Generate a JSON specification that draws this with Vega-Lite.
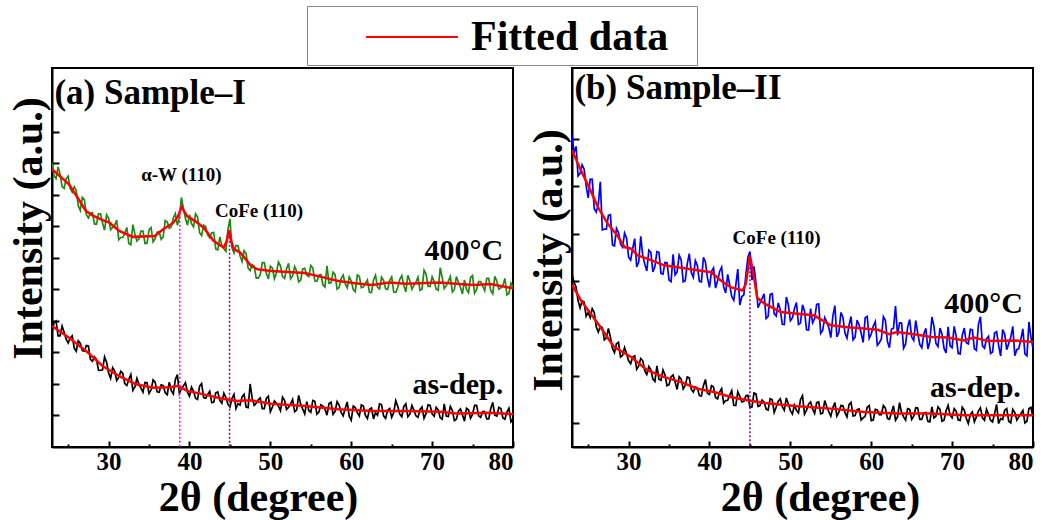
{
"$schema": "https://vega.github.io/schema/vega-lite/v6.json",
"background": "white",
"padding": {"left": 6, "top": 5, "right": 3, "bottom": 2},
"bounds": "flush",
"spacing": 59,
"config": {
 "view": {"stroke": "black", "strokeWidth": 2},
 "font": "Liberation Serif",
 "axis": {"domainColor": "black", "domainWidth": 2, "tickColor": "black", "tickWidth": 2, "grid": false,
  "labelFont": "Liberation Serif", "labelFontWeight": "bold", "labelFontSize": 25, "labelColor": "black",
  "titleFont": "Liberation Serif", "titleFontWeight": "bold", "titleFontSize": 42, "titleColor": "black"},
 "text": {"font": "Liberation Serif", "fontWeight": "bold", "color": "black"}
},
"datasets": {
 "rawA": [
{"x":23,"h":9.03,"d":3.64},{"x":23.5,"h":8.52,"d":4.00},{"x":24,"h":8.66,"d":3.53},{"x":24.5,"h":8.21,"d":3.64},{"x":25,"h":8.60,"d":3.30},{"x":25.5,"h":8.09,"d":3.53},{"x":26,"h":8.13,"d":3.04},{"x":26.5,"h":7.51,"d":3.29},{"x":27,"h":7.85,"d":3.04},{"x":27.5,"h":7.27,"d":3.21},
{"x":28,"h":7.44,"d":2.72},{"x":28.5,"h":7.07,"d":2.78},{"x":29,"h":7.40,"d":2.43},{"x":29.5,"h":6.88,"d":2.86},{"x":30,"h":7.25,"d":2.35},{"x":30.5,"h":6.97,"d":2.52},{"x":31,"h":7.20,"d":2.11},{"x":31.5,"h":6.65,"d":2.40},{"x":32,"h":6.79,"d":2.01},{"x":32.5,"h":6.46,"d":2.15},
{"x":33,"h":7.06,"d":1.80},{"x":33.5,"h":6.54,"d":2.18},{"x":34,"h":6.85,"d":1.87},{"x":34.5,"h":6.46,"d":2.05},{"x":35,"h":6.89,"d":1.70},{"x":35.5,"h":6.51,"d":2.13},{"x":36,"h":6.82,"d":1.75},{"x":36.5,"h":6.59,"d":1.97},{"x":37,"h":7.19,"d":1.72},{"x":37.5,"h":6.94,"d":2.06},
{"x":38,"h":7.27,"d":1.68},{"x":38.5,"h":7.04,"d":2.30},{"x":39,"h":7.92,"d":1.85},{"x":39.5,"h":7.25,"d":2.04},{"x":40,"h":7.37,"d":1.61},{"x":40.5,"h":6.99,"d":1.77},{"x":41,"h":7.30,"d":1.51},{"x":41.5,"h":6.71,"d":2.01},{"x":42,"h":7.00,"d":1.55},{"x":42.5,"h":6.64,"d":1.77},
{"x":43,"h":6.81,"d":1.42},{"x":43.5,"h":6.26,"d":1.75},{"x":44,"h":6.39,"d":1.39},{"x":44.5,"h":6.21,"d":1.57},{"x":45,"h":7.24,"d":1.27},{"x":45.5,"h":6.16,"d":1.67},{"x":46,"h":6.39,"d":1.38},{"x":46.5,"h":5.89,"d":1.59},{"x":47,"h":6.14,"d":1.27},{"x":47.5,"h":5.60,"d":2.00},
{"x":48,"h":5.74,"d":1.32},{"x":48.5,"h":5.36,"d":1.50},{"x":49,"h":5.85,"d":1.22},{"x":49.5,"h":5.51,"d":1.54},{"x":50,"h":5.74,"d":1.12},{"x":50.5,"h":5.34,"d":1.46},{"x":51,"h":5.87,"d":1.30},{"x":51.5,"h":5.41,"d":1.58},{"x":52,"h":5.65,"d":1.19},{"x":52.5,"h":5.34,"d":1.36},
{"x":53,"h":5.73,"d":1.12},{"x":53.5,"h":5.24,"d":1.64},{"x":54,"h":5.65,"d":1.20},{"x":54.5,"h":5.45,"d":1.44},{"x":55,"h":5.76,"d":1.10},{"x":55.5,"h":5.27,"d":1.45},{"x":56,"h":5.45,"d":1.11},{"x":56.5,"h":5.15,"d":1.30},{"x":57,"h":5.75,"d":1.01},{"x":57.5,"h":5.21,"d":1.42},
{"x":58,"h":5.47,"d":1.13},{"x":58.5,"h":5.06,"d":1.33},{"x":59,"h":5.46,"d":0.99},{"x":59.5,"h":5.05,"d":1.43},{"x":60,"h":5.27,"d":0.85},{"x":60.5,"h":4.93,"d":1.25},{"x":61,"h":5.42,"d":0.98},{"x":61.5,"h":5.08,"d":1.30},{"x":62,"h":5.30,"d":0.90},{"x":62.5,"h":4.90,"d":1.24},
{"x":63,"h":5.45,"d":1.09},{"x":63.5,"h":5.02,"d":1.37},{"x":64,"h":5.28,"d":0.99},{"x":64.5,"h":5.00,"d":1.17},{"x":65,"h":5.40,"d":0.94},{"x":65.5,"h":4.91,"d":1.47},{"x":66,"h":5.32,"d":1.04},{"x":66.5,"h":5.13,"d":1.29},{"x":67,"h":5.45,"d":0.96},{"x":67.5,"h":5.01,"d":1.32},
{"x":68,"h":5.23,"d":0.99},{"x":68.5,"h":4.97,"d":1.19},{"x":69,"h":5.61,"d":0.91},{"x":69.5,"h":5.10,"d":1.34},{"x":70,"h":5.40,"d":1.05},{"x":70.5,"h":5.01,"d":1.26},{"x":71,"h":5.69,"d":0.93},{"x":71.5,"h":5.03,"d":1.37},{"x":72,"h":5.26,"d":0.97},{"x":72.5,"h":4.92,"d":1.16},
{"x":73,"h":5.41,"d":0.88},{"x":73.5,"h":5.07,"d":1.21},{"x":74,"h":5.30,"d":0.82},{"x":74.5,"h":4.90,"d":1.18},{"x":75,"h":5.44,"d":1.04},{"x":75.5,"h":5.00,"d":1.32},{"x":76,"h":5.25,"d":0.94},{"x":76.5,"h":4.96,"d":1.12},{"x":77,"h":5.35,"d":0.89},{"x":77.5,"h":4.86,"d":1.42},
{"x":78,"h":5.26,"d":0.98},{"x":78.5,"h":5.05,"d":1.22},{"x":79,"h":5.35,"d":0.88},{"x":79.5,"h":4.88,"d":1.23},{"x":80,"h":5.07,"d":0.89},
{"x":23.25,"h":8.61,"d":3.95},{"x":23.75,"h":8.89,"d":3.53},{"x":24.25,"h":8.27,"d":3.84},{"x":24.75,"h":8.51,"d":3.42},{"x":25.25,"h":8.21,"d":3.46},{"x":25.75,"h":8.26,"d":3.14},{"x":26.25,"h":7.66,"d":3.37},{"x":26.75,"h":7.92,"d":3.06},{"x":27.25,"h":7.37,"d":3.22},{"x":27.75,"h":7.42,"d":2.78},
{"x":28.25,"h":7.08,"d":2.86},{"x":28.75,"h":7.40,"d":2.44},{"x":29.25,"h":7.11,"d":2.45},{"x":29.75,"h":7.37,"d":2.69},{"x":30.25,"h":6.90,"d":2.18},{"x":30.75,"h":7.04,"d":2.41},{"x":31.25,"h":6.58,"d":2.21},{"x":31.75,"h":6.65,"d":2.34},{"x":32.25,"h":6.97,"d":1.95},{"x":32.75,"h":6.42,"d":2.30},
{"x":33.25,"h":6.76,"d":1.91},{"x":33.75,"h":6.61,"d":1.99},{"x":34.25,"h":6.85,"d":1.74},{"x":34.75,"h":6.47,"d":2.04},{"x":35.25,"h":6.96,"d":1.81},{"x":35.75,"h":6.61,"d":2.06},{"x":36.25,"h":6.84,"d":1.74},{"x":36.75,"h":6.67,"d":1.95},{"x":37.25,"h":7.14,"d":1.66},{"x":37.75,"h":6.99,"d":1.79},
{"x":38.25,"h":7.41,"d":2.14},{"x":38.75,"h":7.27,"d":1.70},{"x":39.25,"h":7.57,"d":1.94},{"x":39.75,"h":7.04,"d":1.74},{"x":40.25,"h":7.09,"d":1.90},{"x":40.75,"h":7.40,"d":1.55},{"x":41.25,"h":6.80,"d":1.93},{"x":41.75,"h":7.04,"d":1.57},{"x":42.25,"h":6.73,"d":1.67},{"x":42.75,"h":6.80,"d":1.41},
{"x":43.25,"h":6.28,"d":1.72},{"x":43.75,"h":6.67,"d":1.48},{"x":44.25,"h":6.29,"d":1.71},{"x":44.75,"h":6.90,"d":1.36},{"x":45.25,"h":6.33,"d":1.54},{"x":45.75,"h":6.40,"d":1.22},{"x":46.25,"h":6.07,"d":1.33},{"x":46.75,"h":6.23,"d":1.67},{"x":47.25,"h":5.68,"d":1.25},{"x":47.75,"h":5.79,"d":1.55},
{"x":48.25,"h":5.36,"d":1.39},{"x":48.75,"h":5.47,"d":1.56},{"x":49.25,"h":5.85,"d":1.22},{"x":49.75,"h":5.33,"d":1.61},{"x":50.25,"h":5.68,"d":1.27},{"x":50.75,"h":5.52,"d":1.39},{"x":51.25,"h":5.75,"d":1.15},{"x":51.75,"h":5.35,"d":1.48},{"x":52.25,"h":5.83,"d":1.26},{"x":52.75,"h":5.43,"d":1.51},
{"x":53.25,"h":5.58,"d":1.17},{"x":53.75,"h":5.30,"d":1.36},{"x":54.25,"h":5.67,"d":1.05},{"x":54.75,"h":5.41,"d":1.16},{"x":55.25,"h":5.68,"d":1.48},{"x":55.75,"h":5.26,"d":1.04},{"x":56.25,"h":5.47,"d":1.34},{"x":56.75,"h":5.08,"d":1.20},{"x":57.25,"h":5.20,"d":1.38},{"x":57.75,"h":5.55,"d":1.04},
{"x":58.25,"h":5.01,"d":1.44},{"x":58.75,"h":5.35,"d":1.10},{"x":59.25,"h":5.18,"d":1.22},{"x":59.75,"h":5.40,"d":0.98},{"x":60.25,"h":5.00,"d":1.30},{"x":60.75,"h":5.46,"d":1.09},{"x":61.25,"h":5.06,"d":1.34},{"x":61.75,"h":5.19,"d":1.00},{"x":62.25,"h":4.91,"d":1.20},{"x":62.75,"h":5.30,"d":0.89},
{"x":63.25,"h":5.07,"d":1.01},{"x":63.75,"h":5.39,"d":1.34},{"x":64.25,"h":5.02,"d":0.91},{"x":64.75,"h":5.28,"d":1.22},{"x":65.25,"h":4.92,"d":1.09},{"x":65.75,"h":5.06,"d":1.29},{"x":66.25,"h":5.44,"d":0.96},{"x":66.75,"h":4.92,"d":1.37},{"x":67.25,"h":5.28,"d":1.04},{"x":67.75,"h":5.14,"d":1.17},
{"x":68.25,"h":5.39,"d":0.94},{"x":68.75,"h":5.01,"d":1.27},{"x":69.25,"h":5.49,"d":1.06},{"x":69.75,"h":5.10,"d":1.32},{"x":70.25,"h":5.25,"d":0.98},{"x":70.75,"h":4.98,"d":1.18},{"x":71.25,"h":5.37,"d":0.88},{"x":71.75,"h":5.12,"d":0.98},{"x":72.25,"h":5.41,"d":1.29},{"x":72.75,"h":5.00,"d":0.84},
{"x":73.25,"h":5.23,"d":1.14},{"x":73.75,"h":4.86,"d":1.02},{"x":74.25,"h":5.00,"d":1.23},{"x":74.75,"h":5.38,"d":0.91},{"x":75.25,"h":4.88,"d":1.32},{"x":75.75,"h":5.25,"d":0.99},{"x":76.25,"h":5.11,"d":1.12},{"x":76.75,"h":5.35,"d":0.89},{"x":77.25,"h":4.96,"d":1.22},{"x":77.75,"h":5.42,"d":1.01},
{"x":78.25,"h":5.01,"d":1.26},{"x":78.75,"h":5.13,"d":0.92},{"x":79.25,"h":4.83,"d":1.11},{"x":79.75,"h":5.20,"d":0.80}
 ],
 "rawB": [
{"x":23,"h":13.2,"d":7.30},{"x":23.5,"h":12.69,"d":6.76},{"x":24,"h":11.55,"d":5.87},{"x":24.5,"h":11.73,"d":6.12},{"x":25,"h":10.52,"d":5.68},{"x":25.5,"h":11.30,"d":5.84},{"x":26,"h":9.92,"d":5.07},{"x":26.5,"h":11.2,"d":5.09},{"x":27,"h":9.20,"d":4.52},{"x":27.5,"h":9.78,"d":5.01},
{"x":28,"h":8.53,"d":4.16},{"x":28.5,"h":9.23,"d":4.36},{"x":29,"h":8.57,"d":3.80},{"x":29.5,"h":9.03,"d":4.20},{"x":30,"h":8.01,"d":3.64},{"x":30.5,"h":8.37,"d":3.80},{"x":31,"h":7.60,"d":3.28},{"x":31.5,"h":8.89,"d":3.74},{"x":32,"h":7.72,"d":3.21},{"x":32.5,"h":8.31,"d":3.40},
{"x":33,"h":7.39,"d":2.87},{"x":33.5,"h":8.25,"d":3.43},{"x":34,"h":7.33,"d":2.82},{"x":34.5,"h":7.79,"d":3.04},{"x":35,"h":7.05,"d":2.63},{"x":35.5,"h":8.13,"d":3.04},{"x":36,"h":7.39,"d":2.43},{"x":36.5,"h":7.90,"d":2.87},{"x":37,"h":7.02,"d":2.60},{"x":37.5,"h":8.16,"d":2.92},
{"x":38,"h":7.16,"d":2.32},{"x":38.5,"h":7.66,"d":2.50},{"x":39,"h":6.97,"d":2.15},{"x":39.5,"h":7.80,"d":2.85},{"x":40,"h":6.74,"d":2.22},{"x":40.5,"h":7.56,"d":2.53},{"x":41,"h":7.02,"d":2.03},{"x":41.5,"h":7.59,"d":2.47},{"x":42,"h":6.50,"d":1.96},{"x":42.5,"h":6.84,"d":2.19},
{"x":43,"h":6.19,"d":1.76},{"x":43.5,"h":7.51,"d":2.33},{"x":44,"h":6.35,"d":1.90},{"x":44.5,"h":7.28,"d":2.16},{"x":45,"h":8.25,"d":1.67},{"x":45.5,"h":7.63,"d":2.28},{"x":46,"h":5.88,"d":1.72},{"x":46.5,"h":6.27,"d":1.98},{"x":47,"h":5.42,"d":1.60},{"x":47.5,"h":6.44,"d":2.04},
{"x":48,"h":5.63,"d":1.46},{"x":48.5,"h":6.08,"d":1.93},{"x":49,"h":5.18,"d":1.70},{"x":49.5,"h":6.33,"d":2.07},{"x":50,"h":5.33,"d":1.53},{"x":50.5,"h":5.84,"d":1.77},{"x":51,"h":5.17,"d":1.44},{"x":51.5,"h":6.00,"d":2.17},{"x":52,"h":4.95,"d":1.56},{"x":52.5,"h":5.84,"d":1.90},
{"x":53,"h":5.42,"d":1.42},{"x":53.5,"h":6.04,"d":1.90},{"x":54,"h":4.93,"d":1.43},{"x":54.5,"h":5.27,"d":1.70},{"x":55,"h":4.62,"d":1.30},{"x":55.5,"h":5.97,"d":1.88},{"x":56,"h":4.84,"d":1.47},{"x":56.5,"h":5.47,"d":1.74},{"x":57,"h":4.60,"d":1.27},{"x":57.5,"h":5.51,"d":1.88},
{"x":58,"h":4.64,"d":1.33},{"x":58.5,"h":5.15,"d":1.61},{"x":59,"h":4.41,"d":1.23},{"x":59.5,"h":5.51,"d":1.68},{"x":60,"h":4.77,"d":1.11},{"x":60.5,"h":5.29,"d":1.59},{"x":61,"h":4.40,"d":1.37},{"x":61.5,"h":5.50,"d":1.75},{"x":62,"h":4.45,"d":1.21},{"x":62.5,"h":4.98,"d":1.46},
{"x":63,"h":5.95,"d":1.13},{"x":63.5,"h":5.24,"d":1.87},{"x":64,"h":4.17,"d":1.27},{"x":64.5,"h":5.06,"d":1.62},{"x":65,"h":4.64,"d":1.16},{"x":65.5,"h":5.34,"d":1.66},{"x":66,"h":4.33,"d":1.17},{"x":66.5,"h":4.76,"d":1.44},{"x":67,"h":4.14,"d":1.08},{"x":67.5,"h":5.49,"d":1.69},
{"x":68,"h":4.37,"d":1.30},{"x":68.5,"h":5.02,"d":1.59},{"x":69,"h":4.16,"d":1.13},{"x":69.5,"h":5.07,"d":1.76},{"x":70,"h":4.19,"d":1.23},{"x":70.5,"h":4.68,"d":1.51},{"x":71,"h":3.93,"d":1.12},{"x":71.5,"h":5.02,"d":1.56},{"x":72,"h":4.35,"d":0.99},{"x":72.5,"h":4.94,"d":1.48},
{"x":73,"h":4.08,"d":1.27},{"x":73.5,"h":5.5,"d":1.66},{"x":74,"h":4.17,"d":1.13},{"x":74.5,"h":4.67,"d":1.38},{"x":75,"h":4.01,"d":1.06},{"x":75.5,"h":4.87,"d":1.80},{"x":76,"h":3.84,"d":1.20},{"x":76.5,"h":4.76,"d":1.55},{"x":77,"h":4.37,"d":1.09},{"x":77.5,"h":5.09,"d":1.59},
{"x":78,"h":4.11,"d":1.13},{"x":78.5,"h":4.55,"d":1.41},{"x":79,"h":3.93,"d":1.02},{"x":79.5,"h":5.28,"d":1.62},{"x":80,"h":4.17,"d":1.24},
{"x":23.25,"h":12.42,"d":6.95},{"x":23.75,"h":11.44,"d":6.18},{"x":24.25,"h":11.91,"d":6.17},{"x":24.75,"h":11.02,"d":5.52},{"x":25.25,"h":11.31,"d":5.46},{"x":25.75,"h":10.06,"d":5.68},{"x":26.25,"h":10.23,"d":4.85},{"x":26.75,"h":9.16,"d":5.04},{"x":27.25,"h":9.20,"d":4.61},{"x":27.75,"h":9.81,"d":4.64},
{"x":28.25,"h":8.49,"d":3.98},{"x":28.75,"h":9.04,"d":4.42},{"x":29.25,"h":8.44,"d":3.86},{"x":29.75,"h":8.81,"d":3.94},{"x":30.25,"h":7.89,"d":3.51},{"x":30.75,"h":8.80,"d":3.85},{"x":31.25,"h":7.82,"d":3.42},{"x":31.75,"h":8.08,"d":3.64},{"x":32.25,"h":7.43,"d":3.06},{"x":32.75,"h":8.22,"d":3.26},
{"x":33.25,"h":7.62,"d":2.77},{"x":33.75,"h":8.22,"d":2.86},{"x":34.25,"h":7.30,"d":3.25},{"x":34.75,"h":7.78,"d":2.59},{"x":35.25,"h":6.98,"d":2.97},{"x":35.75,"h":7.27,"d":2.74},{"x":36.25,"h":8.10,"d":2.97},{"x":36.75,"h":6.97,"d":2.45},{"x":37.25,"h":7.73,"d":2.96},{"x":37.75,"h":7.37,"d":2.43},
{"x":38.25,"h":7.87,"d":2.54},{"x":38.75,"h":6.99,"d":2.17},{"x":39.25,"h":8.01,"d":2.59},{"x":39.75,"h":7.14,"d":2.27},{"x":40.25,"h":7.42,"d":2.59},{"x":40.75,"h":6.71,"d":2.09},{"x":41.25,"h":7.41,"d":2.32},{"x":41.75,"h":6.75,"d":1.85},{"x":42.25,"h":7.29,"d":1.97},{"x":42.75,"h":6.35,"d":2.38},
{"x":43.25,"h":6.82,"d":1.75},{"x":43.75,"h":5.99,"d":2.14},{"x":44.25,"h":6.42,"d":1.93},{"x":44.75,"h":8.01,"d":2.18},{"x":45.25,"h":7.04,"d":1.69},{"x":45.75,"h":6.92,"d":2.24},{"x":46.25,"h":6.08,"d":1.75},{"x":46.75,"h":6.47,"d":1.90},{"x":47.25,"h":5.51,"d":1.56},{"x":47.75,"h":6.47,"d":2.00},
{"x":48.25,"h":5.53,"d":1.69},{"x":48.75,"h":5.80,"d":2.03},{"x":49.25,"h":5.17,"d":1.55},{"x":49.75,"h":6.00,"d":1.82},{"x":50.25,"h":5.45,"d":1.39},{"x":50.75,"h":6.10,"d":1.55},{"x":51.25,"h":5.23,"d":2.00},{"x":51.75,"h":5.74,"d":1.39},{"x":52.25,"h":4.94,"d":1.81},{"x":52.75,"h":5.24,"d":1.61},
{"x":53.25,"h":6.02,"d":1.87},{"x":53.75,"h":4.80,"d":1.40},{"x":54.25,"h":5.46,"d":1.96},{"x":54.75,"h":5.04,"d":1.49},{"x":55.25,"h":5.52,"d":1.65},{"x":55.75,"h":4.65,"d":1.31},{"x":56.25,"h":5.68,"d":1.75},{"x":56.75,"h":4.81,"d":1.45},{"x":57.25,"h":5.13,"d":1.79},{"x":57.75,"h":4.52,"d":1.31},
{"x":58.25,"h":5.36,"d":1.58},{"x":58.75,"h":4.81,"d":1.14},{"x":59.25,"h":5.46,"d":1.30},{"x":59.75,"h":4.59,"d":1.75},{"x":60.25,"h":5.10,"d":1.14},{"x":60.75,"h":4.29,"d":1.56},{"x":61.25,"h":4.56,"d":1.37},{"x":61.75,"h":5.34,"d":1.64},{"x":62.25,"h":4.19,"d":1.17},{"x":62.75,"h":5.01,"d":1.74},
{"x":63.25,"h":4.71,"d":1.27},{"x":63.75,"h":5.23,"d":1.45},{"x":64.25,"h":4.35,"d":1.13},{"x":64.75,"h":5.38,"d":1.59},{"x":65.25,"h":4.50,"d":1.30},{"x":65.75,"h":4.81,"d":1.65},{"x":66.25,"h":4.19,"d":1.17},{"x":66.75,"h":5.01,"d":1.46},{"x":67.25,"h":4.45,"d":1.06},{"x":67.75,"h":5.10,"d":1.23},
{"x":68.25,"h":4.24,"d":1.69},{"x":68.75,"h":4.76,"d":1.09},{"x":69.25,"h":3.97,"d":1.52},{"x":69.75,"h":4.27,"d":1.34},{"x":70.25,"h":5.09,"d":1.62},{"x":70.75,"h":3.95,"d":1.14},{"x":71.25,"h":4.71,"d":1.68},{"x":71.75,"h":4.40,"d":1.21},{"x":72.25,"h":4.97,"d":1.38},{"x":72.75,"h":4.15,"d":1.06},
{"x":73.25,"h":5.17,"d":1.52},{"x":73.75,"h":4.27,"d":1.23},{"x":74.25,"h":4.56,"d":1.59},{"x":74.75,"h":3.95,"d":1.13},{"x":75.25,"h":4.81,"d":1.41},{"x":75.75,"h":4.29,"d":0.99},{"x":76.25,"h":4.96,"d":1.16},{"x":76.75,"h":4.11,"d":1.62},{"x":77.25,"h":4.63,"d":1.02},{"x":77.75,"h":3.85,"d":1.45},
{"x":78.25,"h":4.16,"d":1.27},{"x":78.75,"h":4.99,"d":1.55},{"x":79.25,"h":3.85,"d":1.09},{"x":79.75,"h":4.63,"d":1.67}
 ],
 "fitA": [
{"s":"h","x":23,"y":8.82},{"s":"h","x":25.1,"y":8.34},{"s":"h","x":26,"y":7.98},{"s":"h","x":27.2,"y":7.49},{"s":"h","x":28,"y":7.35},{"s":"h","x":29.25,"y":7.20},{"s":"h","x":30.1,"y":7.12},{"s":"h","x":31.3,"y":6.86},{"s":"h","x":33,"y":6.67},{"s":"h","x":35.7,"y":6.70},{"s":"h","x":36.75,"y":6.91},{"s":"h","x":38,"y":7.12},{"s":"h","x":38.6,"y":7.33},{"s":"h","x":39,"y":7.62},{"s":"h","x":39.7,"y":7.33},{"s":"h","x":40.7,"y":7.17},{"s":"h","x":41.75,"y":6.96},{"s":"h","x":43,"y":6.54},{"s":"h","x":44.25,"y":6.33},{"s":"h","x":44.6,"y":6.54},{"s":"h","x":44.9,"y":6.88},{"s":"h","x":45.2,"y":6.49},{"s":"h","x":45.5,"y":6.28},{"s":"h","x":46.3,"y":6.17},{"s":"h","x":47.6,"y":5.75},{"s":"h","x":48.4,"y":5.64},{"s":"h","x":50.1,"y":5.59},{"s":"h","x":54.25,"y":5.52},{"s":"h","x":56.3,"y":5.40},{"s":"h","x":58.4,"y":5.27},{"s":"h","x":60.5,"y":5.20},{"s":"h","x":62.6,"y":5.14},{"s":"h","x":64.7,"y":5.22},{"s":"h","x":66.75,"y":5.18},{"s":"h","x":70.9,"y":5.22},{"s":"h","x":75.1,"y":5.14},{"s":"h","x":77.2,"y":5.17},{"s":"h","x":80,"y":5.04},
{"s":"d","x":23,"y":3.84},{"s":"d","x":25.1,"y":3.47},{"s":"d","x":27.2,"y":3.05},{"s":"d","x":29.25,"y":2.57},{"s":"d","x":31.3,"y":2.25},{"s":"d","x":33.4,"y":1.99},{"s":"d","x":35.5,"y":1.88},{"s":"d","x":37.6,"y":1.90},{"s":"d","x":38.6,"y":1.94},{"s":"d","x":39.7,"y":1.78},{"s":"d","x":41.75,"y":1.67},{"s":"d","x":43.8,"y":1.55},{"s":"d","x":45.9,"y":1.46},{"s":"d","x":47.6,"y":1.48},{"s":"d","x":50.1,"y":1.37},{"s":"d","x":54.25,"y":1.30},{"s":"d","x":58.4,"y":1.20},{"s":"d","x":62.6,"y":1.14},{"s":"d","x":66.75,"y":1.14},{"s":"d","x":70.9,"y":1.12},{"s":"d","x":73,"y":1.06},{"s":"d","x":77.2,"y":1.09},{"s":"d","x":80,"y":1.04}
 ],
 "fitB": [
{"s":"h","x":23,"y":12.53},{"s":"h","x":24.1,"y":11.68},{"s":"h","x":25.1,"y":10.97},{"s":"h","x":26.2,"y":10.13},{"s":"h","x":27.4,"y":9.43},{"s":"h","x":28.6,"y":8.93},{"s":"h","x":29.5,"y":8.44},{"s":"h","x":30.3,"y":8.37},{"s":"h","x":31.1,"y":8.09},{"s":"h","x":32.3,"y":7.95},{"s":"h","x":34.4,"y":7.67},{"s":"h","x":36.5,"y":7.57},{"s":"h","x":38.5,"y":7.46},{"s":"h","x":40.2,"y":7.38},{"s":"h","x":41.4,"y":7.03},{"s":"h","x":42.6,"y":6.75},{"s":"h","x":44.1,"y":6.61},{"s":"h","x":44.5,"y":6.89},{"s":"h","x":45.0,"y":8.09},{"s":"h","x":45.5,"y":7.17},{"s":"h","x":45.9,"y":6.30},{"s":"h","x":46.8,"y":6.05},{"s":"h","x":48.8,"y":5.70},{"s":"h","x":50.9,"y":5.63},{"s":"h","x":52.9,"y":5.56},{"s":"h","x":55,"y":5.14},{"s":"h","x":57.1,"y":5.06},{"s":"h","x":59.1,"y":5.00},{"s":"h","x":60.8,"y":4.95},{"s":"h","x":62.2,"y":4.76},{"s":"h","x":63.2,"y":4.85},{"s":"h","x":65.3,"y":4.76},{"s":"h","x":67.4,"y":4.64},{"s":"h","x":69.4,"y":4.62},{"s":"h","x":71.5,"y":4.50},{"s":"h","x":72.7,"y":4.62},{"s":"h","x":74.4,"y":4.47},{"s":"h","x":77.7,"y":4.50},{"s":"h","x":80,"y":4.43},
{"s":"d","x":23,"y":6.85},{"s":"d","x":24.1,"y":6.19},{"s":"d","x":26.2,"y":5.21},{"s":"d","x":28.2,"y":4.22},{"s":"d","x":30.3,"y":3.80},{"s":"d","x":32.3,"y":3.24},{"s":"d","x":34.4,"y":2.95},{"s":"d","x":36.5,"y":2.74},{"s":"d","x":38.5,"y":2.46},{"s":"d","x":40.6,"y":2.32},{"s":"d","x":42.6,"y":2.11},{"s":"d","x":44.7,"y":1.97},{"s":"d","x":46.8,"y":1.86},{"s":"d","x":50.9,"y":1.72},{"s":"d","x":55,"y":1.62},{"s":"d","x":59.1,"y":1.48},{"s":"d","x":63.2,"y":1.41},{"s":"d","x":67.4,"y":1.41},{"s":"d","x":71.5,"y":1.34},{"s":"d","x":75.7,"y":1.34},{"s":"d","x":80,"y":1.34}
 ]
},
"hconcat": [
 {
  "width": 461, "height": 379,
  "resolve": {"axis": {"x": "independent"}},
  "layer": [
   {"data": {"name": "rawA"}, "mark": {"type": "line", "color": "#1e8a12", "strokeWidth": 1.7, "clip": true},
    "encoding": {
     "x": {"field": "x", "type": "quantitative", "scale": {"domain": [23, 80], "nice": false, "zero": false},
      "axis": {"orient": "bottom", "values": [30, 40, 50, 60, 70, 80], "tickSize": -6, "labelPadding": 8, "title": "2θ (degree)", "titleX": 206, "titleY": 63, "titleBaseline": "alphabetic"}},
     "y": {"field": "h", "type": "quantitative", "scale": {"domain": [0, 12.03], "nice": false, "zero": false},
      "axis": {"values": [1, 2, 3, 4, 5, 6, 7, 8, 9, 10], "tickSize": -7, "labels": false, "title": "Intensity (a.u.)", "titleX": -24, "titleY": 160, "titleBaseline": "middle"}}
    }},
   {"data": {"name": "rawA"}, "mark": {"type": "line", "color": "black", "strokeWidth": 1.7, "clip": true},
    "encoding": {
     "x": {"field": "x", "type": "quantitative", "axis": {"orient": "bottom", "values": [25, 35, 45, 55, 65, 75], "tickSize": -3, "labels": false, "domain": false, "title": null}},
     "y": {"field": "d", "type": "quantitative"}
    }},
   {"data": {"name": "fitA"}, "mark": {"type": "line", "strokeWidth": 2.5, "clip": true},
    "encoding": {
     "x": {"field": "x", "type": "quantitative", "axis": null},
     "y": {"field": "y", "type": "quantitative"},
     "detail": {"field": "s", "type": "nominal"},
     "color": {"datum": "Fitted data", "type": "nominal", "scale": {"domain": ["Fitted data"], "range": ["#ff0000"]},
      "legend": {"orient": "none", "legendX": 255, "legendY": -62, "direction": "horizontal", "title": " ", "titleOrient": "right", "titlePadding": 22, "titleFontSize": 42, "symbolType": "M-2,0H2", "symbolSize": 2116, "symbolStrokeWidth": 2, "symbolOffset": 74, "labelOffset": 35, "labelFont": "Liberation Serif", "labelFontWeight": "bold", "labelFontSize": 42, "labelColor": "black", "labelLimit": 400, "strokeColor": "#888888", "fillColor": "white", "padding": 7}}
    }},
   {"data": {"values": [{"x": 38.8, "y": 7.56}]}, "mark": {"type": "rule", "color": "#ff00ff", "strokeWidth": 1.5, "strokeDash": [2, 2]},
    "encoding": {"x": {"field": "x", "type": "quantitative", "axis": null}, "y": {"field": "y", "type": "quantitative"}, "y2": {"datum": 0}}},
   {"data": {"values": [{"x": 44.95, "y": 6.8}]}, "mark": {"type": "rule", "color": "#8b008b", "strokeWidth": 1.5, "strokeDash": [2, 2]},
    "encoding": {"x": {"field": "x", "type": "quantitative", "axis": null}, "y": {"field": "y", "type": "quantitative"}, "y2": {"datum": 0}}},
   {"data": {"values": [{"x": 23.3, "y": 10.89, "t": "(a) Sample–I"}]}, "mark": {"type": "text", "fontSize": 35, "align": "left", "baseline": "alphabetic"},
    "encoding": {"x": {"field": "x", "type": "quantitative", "axis": null}, "y": {"field": "y", "type": "quantitative"}, "text": {"field": "t"}}},
   {"data": {"values": [{"x": 78.8, "y": 5.94, "t": "400°C"}, {"x": 78.8, "y": 1.68, "t": "as-dep."}]}, "mark": {"type": "text", "fontSize": 30, "align": "right", "baseline": "alphabetic"},
    "encoding": {"x": {"field": "x", "type": "quantitative", "axis": null}, "y": {"field": "y", "type": "quantitative"}, "text": {"field": "t"}}},
   {"data": {"values": [{"x": 39.0, "y": 8.44, "t": "α-W (110)"}, {"x": 48.6, "y": 7.30, "t": "CoFe (110)"}]}, "mark": {"type": "text", "fontSize": 19, "align": "center", "baseline": "alphabetic"},
    "encoding": {"x": {"field": "x", "type": "quantitative", "axis": null}, "y": {"field": "y", "type": "quantitative"}, "text": {"field": "t"}}}
  ]
 },
 {
  "width": 461, "height": 379,
  "resolve": {"axis": {"x": "independent"}},
  "layer": [
   {"data": {"name": "rawB"}, "mark": {"type": "line", "color": "#0000ff", "strokeWidth": 1.7, "clip": true},
    "encoding": {
     "x": {"field": "x", "type": "quantitative", "scale": {"domain": [23, 80], "nice": false, "zero": false},
      "axis": {"orient": "bottom", "values": [30, 40, 50, 60, 70, 80], "tickSize": -6, "labelPadding": 8, "title": "2θ (degree)", "titleX": 248, "titleY": 63, "titleBaseline": "alphabetic"}},
     "y": {"field": "h", "type": "quantitative", "scale": {"domain": [0, 16.0], "nice": false, "zero": false},
      "axis": {"values": [1, 2, 3, 4, 5, 6, 7, 8, 9, 10, 11, 12, 13, 14], "tickSize": -7, "labels": false, "title": "Intensity (a.u.)", "titleX": -24, "titleY": 192, "titleBaseline": "middle"}}
    }},
   {"data": {"name": "rawB"}, "mark": {"type": "line", "color": "black", "strokeWidth": 1.7, "clip": true},
    "encoding": {
     "x": {"field": "x", "type": "quantitative", "axis": {"orient": "bottom", "values": [25, 35, 45, 55, 65, 75], "tickSize": -3, "labels": false, "domain": false, "title": null}},
     "y": {"field": "d", "type": "quantitative"}
    }},
   {"data": {"name": "fitB"}, "mark": {"type": "line", "strokeWidth": 2.5, "clip": true},
    "encoding": {
     "x": {"field": "x", "type": "quantitative", "axis": null},
     "y": {"field": "y", "type": "quantitative"},
     "detail": {"field": "s", "type": "nominal"},
     "color": {"datum": "Fitted data", "type": "nominal"}
    }},
   {"data": {"values": [{"x": 45.0, "y": 8.09}]}, "mark": {"type": "rule", "color": "#8b008b", "strokeWidth": 1.5, "strokeDash": [2, 2]},
    "encoding": {"x": {"field": "x", "type": "quantitative", "axis": null}, "y": {"field": "y", "type": "quantitative"}, "y2": {"datum": 0}}},
   {"data": {"values": [{"x": 23.3, "y": 14.70, "t": "(b) Sample–II"}]}, "mark": {"type": "text", "fontSize": 35, "align": "left", "baseline": "alphabetic"},
    "encoding": {"x": {"field": "x", "type": "quantitative", "axis": null}, "y": {"field": "y", "type": "quantitative"}, "text": {"field": "t"}}},
   {"data": {"values": [{"x": 78.75, "y": 5.64, "t": "400°C"}, {"x": 78.5, "y": 2.10, "t": "as-dep."}]}, "mark": {"type": "text", "fontSize": 30, "align": "right", "baseline": "alphabetic"},
    "encoding": {"x": {"field": "x", "type": "quantitative", "axis": null}, "y": {"field": "y", "type": "quantitative"}, "text": {"field": "t"}}},
   {"data": {"values": [{"x": 48.3, "y": 8.59, "t": "CoFe (110)"}]}, "mark": {"type": "text", "fontSize": 19, "align": "center", "baseline": "alphabetic"},
    "encoding": {"x": {"field": "x", "type": "quantitative", "axis": null}, "y": {"field": "y", "type": "quantitative"}, "text": {"field": "t"}}}
  ]
 }
]
}
